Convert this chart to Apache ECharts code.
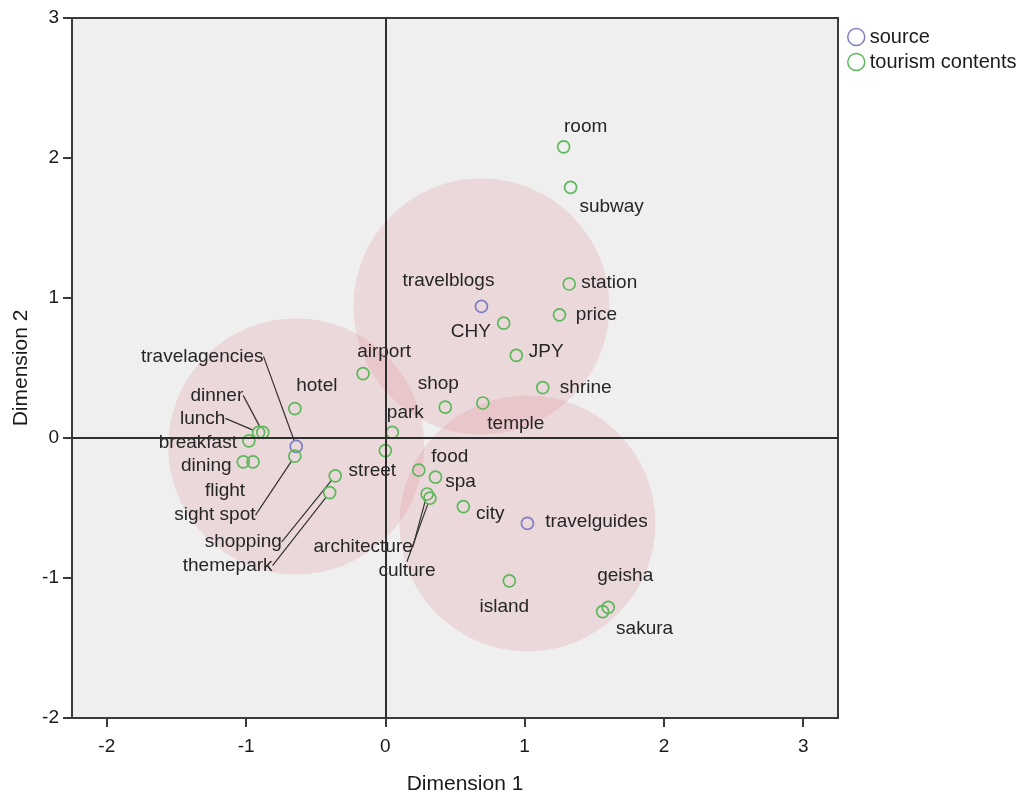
<!DOCTYPE html>
<html>
<head>
<meta charset="utf-8">
<title>Dimension plot</title>
<script src="https://cdn.jsdelivr.net/npm/echarts@6/dist/echarts.min.js"></script>
<style>
    html, body { margin: 0; padding: 0; background: #fff; }
    #chart { width: 1018px; height: 794px; }
</style>
</head>
<body>
<div id="chart"></div>
<script>
    /*source points*/
    var sourceNames = ['travelblogs', 'travelagencies', 'travelguides'];
    var sourceX = [0.69, -0.64, 1.02];
    var sourceY = [0.94, -0.06, -0.61];

    /*tourism contents points*/
    var contentNames = ['room', 'subway', 'station', 'price', 'CHY', 'JPY', 'shrine', 'shop', 'temple', 'park',
        'airport', 'hotel', 'dinner', 'lunch', 'breakfast', 'dining', 'flight', 'sight spot', 'shopping', 'themepark',
        'street', 'food', 'spa', 'architecture', 'culture', 'city', 'island', 'geisha', 'sakura'];
    var contentX = [1.28, 1.33, 1.32, 1.25, 0.85, 0.94, 1.13, 0.43, 0.70, 0.05,
        -0.16, -0.65, -0.88, -0.91, -0.98, -1.02, -0.95, -0.65, -0.36, -0.40,
        0.00, 0.24, 0.36, 0.30, 0.32, 0.56, 0.89, 1.60, 1.56];
    var contentY = [2.08, 1.79, 1.10, 0.88, 0.82, 0.59, 0.36, 0.22, 0.25, 0.04,
        0.46, 0.21, 0.04, 0.04, -0.02, -0.17, -0.17, -0.13, -0.27, -0.39,
        -0.09, -0.23, -0.28, -0.40, -0.43, -0.49, -1.02, -1.21, -1.24];

    var xTicks = [-2, -1, 0, 1, 2, 3];
    var yTicks = [-2, -1, 0, 1, 2, 3];

    var FONT = 'Liberation Sans, Arial, sans-serif';
    var GREEN = '#5cb85a';
    var PURPLE = '#7f7fc8';

    /*label placement: offset of label centre from point, in px; true = leader line*/
    var labelPlace = {
        'travelblogs': [-33, -26], 'travelagencies': [-94, -90, true], 'travelguides': [69, -2],
        'room': [22, -20], 'subway': [41, 19], 'station': [40, -1], 'price': [37, 0],
        'CHY': [-33, 9], 'JPY': [30, -4], 'shrine': [43, 0], 'shop': [-7, -23], 'temple': [33, 21],
        'park': [13, -20], 'airport': [21, -22], 'hotel': [22, -23], 'dinner': [-46, -37, true],
        'lunch': [-56, -14, true], 'breakfast': [-51, 2], 'dining': [-37, 4], 'flight': [-28, 29],
        'sight spot': [-80, 59, true], 'shopping': [-92, 66, true], 'themepark': [-102, 73, true],
        'street': [-13, 20], 'food': [31, -13], 'spa': [25, 5], 'architecture': [-64, 53, true],
        'culture': [-23, 73, true], 'city': [27, 7], 'island': [-5, 26], 'geisha': [17, -32], 'sakura': [42, 17]
    };

    function buildPoints(names, xs, ys) {
        var out = [];
        for (var i = 0; i < names.length; i++) {
            var p = labelPlace[names[i]];
            out.push({
                name: names[i],
                value: [xs[i], ys[i]],
                labelLine: { show: !!p[2] }
            });
        }
        return out;
    }

    function placeLabel(params) {
        var p = labelPlace[params.text] || [0, 0];
        return { dx: p[0], dy: p[1] };
    }

    var circleData = [];
    for (var i = 0; i < sourceNames.length; i++) {
        circleData.push([sourceX[i], sourceY[i]]);
    }

    var labelStyle = {
        show: true,
        position: 'inside',
        formatter: '{b}',
        color: '#262626',
        textBorderWidth: 0,
        fontSize: 19,
        fontFamily: FONT
    };
    var leader = { lineStyle: { color: '#333', width: 1.2 } };

    var chart = echarts.init(document.getElementById('chart'));
    var option = {
        animation: false,
        grid: {
            left: 72, right: 180, top: 18, bottom: 76,
            outerBoundsMode: 'none',
            show: true,
            backgroundColor: '#efefef',
            borderColor: '#3a3a3a',
            borderWidth: 2
        },
        legend: {
            orient: 'vertical',
            left: 842, top: 22,
            itemWidth: 17, itemHeight: 17, itemGap: 5,
            textStyle: { fontSize: 20, color: '#1a1a1a', fontFamily: FONT },
            data: [
                { name: 'source', icon: 'circle', itemStyle: { color: 'rgba(0,0,0,0)', borderColor: PURPLE, borderWidth: 1.5 } },
                { name: 'tourism contents', icon: 'circle', itemStyle: { color: 'rgba(0,0,0,0)', borderColor: GREEN, borderWidth: 1.5 } }
            ]
        },
        xAxis: {
            type: 'value',
            min: -2.25, max: 3.25,
            name: 'Dimension 1',
            nameLocation: 'middle',
            nameGap: 56,
            nameTextStyle: { fontSize: 21, color: '#1a1a1a', fontFamily: FONT, padding: [0, 0, 0, 20] },
            splitLine: { show: false },
            axisLine: { onZero: false, lineStyle: { color: '#3a3a3a', width: 2 } },
            axisTick: { show: true, customValues: xTicks, length: 9, lineStyle: { color: '#3a3a3a', width: 2 } },
            axisLabel: { customValues: xTicks, margin: 19, fontSize: 19, color: '#1a1a1a', fontFamily: FONT }
        },
        yAxis: {
            type: 'value',
            min: -2, max: 3, interval: 1,
            name: 'Dimension 2',
            nameLocation: 'middle',
            nameGap: 38,
            nameTextStyle: { fontSize: 21, color: '#1a1a1a', fontFamily: FONT },
            splitLine: { show: false },
            axisLine: { onZero: false, lineStyle: { color: '#3a3a3a', width: 2 } },
            axisTick: { show: true, length: 9, lineStyle: { color: '#3a3a3a', width: 2 } },
            axisLabel: {
                fontSize: 19, color: '#1a1a1a', margin: 13, fontFamily: FONT,
                formatter: function (v) { return yTicks.indexOf(v) >= 0 ? String(v) : ''; }
            }
        },
        series: [
            {
                /*shaded regions round each source*/
                name: 'regions',
                type: 'scatter',
                silent: true,
                z: 1,
                symbol: 'circle',
                symbolSize: 256,
                itemStyle: { color: 'rgba(222, 146, 152, 0.3)' },
                data: circleData
            },
            {
                name: 'zero',
                type: 'scatter',
                silent: true,
                z: 2,
                data: [],
                markLine: {
                    silent: true,
                    symbol: 'none',
                    label: { show: false },
                    lineStyle: { color: '#2e2e2e', width: 2, type: 'solid' },
                    data: [{ xAxis: 0 }, { yAxis: 0 }]
                }
            },
            {
                name: 'source',
                type: 'scatter',
                z: 3,
                symbol: 'circle',
                symbolSize: 12,
                itemStyle: { color: 'rgba(0,0,0,0)', borderColor: PURPLE, borderWidth: 1.7, opacity: 1 },
                label: labelStyle,
                labelLine: leader,
                labelLayout: placeLabel,
                data: buildPoints(sourceNames, sourceX, sourceY)
            },
            {
                name: 'tourism contents',
                type: 'scatter',
                z: 3,
                symbol: 'circle',
                symbolSize: 12,
                itemStyle: { color: 'rgba(0,0,0,0)', borderColor: GREEN, borderWidth: 1.7, opacity: 1 },
                label: labelStyle,
                labelLine: leader,
                labelLayout: placeLabel,
                data: buildPoints(contentNames, contentX, contentY)
            }
        ]
    };
    chart.setOption(option);
</script>
</body>
</html>
